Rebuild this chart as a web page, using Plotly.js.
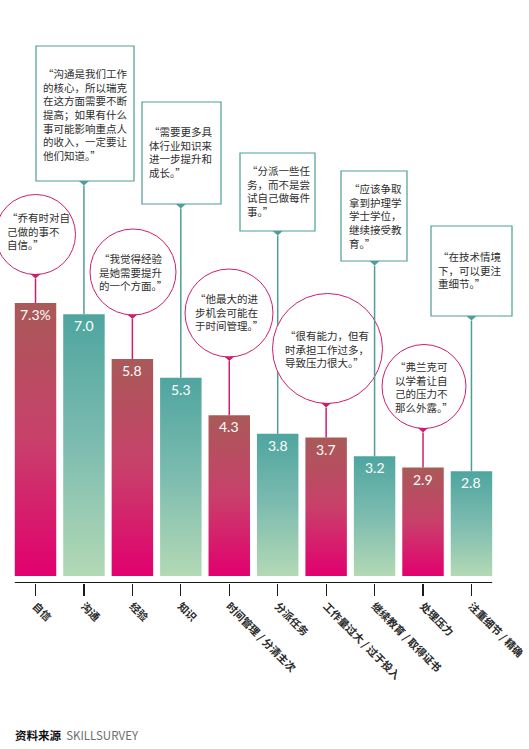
<!DOCTYPE html>
<html>
<head>
<meta charset="utf-8">
<script src="https://cdn.plot.ly/plotly-3.0.1.min.js"></script>
<style>
html,body{margin:0;padding:0;background:#fff;}
#chart{width:529px;height:749px;}
</style>
</head>
<body>
<div id="chart"></div>
<script>
// ---------- DATA ----------
const categories = ['自信', '沟通', '经验', '知识', '时间管理 / 分清主次', '分派任务',
  '工作量过大 / 过于投入', '继续教育 / 取得证书', '处理压力', '注重细节 / 精确'];
const values = [7.3, 7.0, 5.8, 5.3, 4.3, 3.8, 3.7, 3.2, 2.9, 2.8];
const valueLabels = ['7.3%', '7.0', '5.8', '5.3', '4.3', '3.8', '3.7', '3.2', '2.9', '2.8'];
const quotes = [
  '“乔有时对自<br>己做的事不<br>自信。”',
  '“沟通是我们工作<br>的核心，所以瑞克<br>在这方面需要不断<br>提高；如果有什么<br>事可能影响重点人<br>的收入，一定要让<br>他们知道。”',
  '“我觉得经验<br>是她需要提升<br>的一个方面。”',
  '“需要更多具<br>体行业知识来<br>进一步提升和<br>成长。”',
  '“他最大的进<br>步机会可能在<br>于时间管理。”',
  '“分派一些任<br>务，而不是尝<br>试自己做每件<br>事。”',
  '“很有能力，但有<br>时承担工作过多，<br>导致压力很大。”',
  '“应该争取<br>拿到护理学<br>学士学位，<br>继续接受教<br>育。”',
  '“弗兰克可<br>以学着让自<br>己的压力不<br>那么外露。”',
  '“在技术情境<br>下，可以更注<br>重细节。”'
];
const sourceLabel = '资料来源';
const sourceName = 'SKILLSURVEY';

// ---------- LAYOUT / STYLE ----------
const W = 529, PLOT_H = 583;
const xRange = [-0.733, 10.188];
const yRange = [-0.187, 15.40];
const px2x = p => xRange[0] + p / W * (xRange[1] - xRange[0]);
const py2y = p => yRange[1] - p / PLOT_H * (yRange[1] - yRange[0]);
const halfW = 0.428;

const PINK = {top: '#a95a58', mid: '#c8406a', bottom: '#e2006f', stroke: '#cc1e6e'};
const TEAL = {top: '#4ea59f', mid: '#7dbcb0', bottom: '#b3d9b5', stroke: '#4f9d97'};

// callout geometry in pixels (circle: cx, cy, r ; rect: x0,x1,y0,y1) and text centre
const callouts = [
  {kind: 'circle', cx: 35.5, cy: 234.5, r: 40, tx: 38, ty: 231},
  {kind: 'rect', x0: 36, x1: 134, y0: 46, y1: 181, tx: 85, ty: 114},
  {kind: 'circle', cx: 133, cy: 272, r: 43, tx: 133, ty: 272},
  {kind: 'rect', x0: 142, x1: 221, y0: 102, y1: 204, tx: 181, ty: 152},
  {kind: 'circle', cx: 229, cy: 313, r: 44, tx: 229, ty: 312},
  {kind: 'rect', x0: 240, x1: 315, y0: 153, y1: 231, tx: 279, ty: 191},
  {kind: 'circle', cx: 327.5, cy: 348.5, r: 55, tx: 327, ty: 349},
  {kind: 'rect', x0: 341, x1: 407, y0: 171, y1: 261, tx: 375, ty: 215.5},
  {kind: 'circle', cx: 424, cy: 386.5, r: 42, tx: 424, ty: 386.5},
  {kind: 'rect', x0: 431, x1: 512, y0: 226, y1: 316, tx: 470, ty: 270}
];

// ---------- TRACES (bars as gradient-filled areas) ----------
const traces = values.map((v, i) => {
  const c = i % 2 === 0 ? PINK : TEAL;
  return {
    type: 'scatter',
    mode: 'lines',
    x: [i - halfW, i + halfW, i + halfW, i - halfW, i - halfW],
    y: [0, 0, v, v, 0],
    fill: 'toself',
    fillcolor: c.mid,
    fillgradient: {
      type: 'vertical',
      start: 0,
      stop: v,
      colorscale: [[0, c.bottom], [0.5, c.mid], [1, c.top]]
    },
    line: {width: 0, color: 'rgba(0,0,0,0)'},
    hoverinfo: 'skip',
    showlegend: false
  };
});

// ---------- SHAPES & ANNOTATIONS ----------
const shapes = [];
const annotations = [];

values.forEach((v, i) => {
  const co = callouts[i];
  const isCircle = co.kind === 'circle';
  const col = isCircle ? PINK.stroke : TEAL.stroke;
  let bottomPix;
  if (isCircle) {
    shapes.push({
      type: 'circle', xref: 'x', yref: 'y',
      x0: px2x(co.cx - co.r), x1: px2x(co.cx + co.r),
      y0: py2y(co.cy + co.r), y1: py2y(co.cy - co.r),
      line: {color: col, width: 1}, fillcolor: '#ffffff', layer: 'above'
    });
    bottomPix = co.cy + co.r - 0.5;
  } else {
    shapes.push({
      type: 'rect', xref: 'x', yref: 'y',
      x0: px2x(co.x0), x1: px2x(co.x1),
      y0: py2y(co.y1), y1: py2y(co.y0),
      line: {color: col, width: 1.2}, fillcolor: '#ffffff', layer: 'above'
    });
    bottomPix = co.y1;
  }
  const px = i;
  const tipPix = bottomPix + 4.5;
  const dx = px2x(5) - px2x(0);
  shapes.push({
    type: 'path', xref: 'x', yref: 'y',
    path: `M ${px - dx} ${py2y(bottomPix)} L ${px + dx} ${py2y(bottomPix)} L ${px} ${py2y(tipPix)} Z`,
    fillcolor: col, line: {width: 0}, layer: 'above'
  });
  shapes.push({
    type: 'line', xref: 'x', yref: 'y',
    x0: px, x1: px, y0: v, y1: py2y(tipPix),
    line: {color: col, width: 1.5}, layer: 'above'
  });
  annotations.push({
    xref: 'x', yref: 'y', x: px2x(co.tx), y: py2y(co.ty),
    xanchor: 'center', yanchor: 'middle', align: 'left',
    text: quotes[i], showarrow: false,
    font: {family: '"Noto Sans CJK SC", "Noto Sans", sans-serif', size: 10.5, color: '#2e2e2e'}
  });
  annotations.push({
    xref: 'x', yref: 'y', x: i, y: v, yanchor: 'top', xanchor: 'center', yshift: -1,
    text: valueLabels[i], showarrow: false,
    font: {family: 'Lato, "Open Sans", sans-serif', size: 14, color: '#ffffff'}
  });
});

// axis base line
shapes.push({
  type: 'line', xref: 'x', yref: 'y',
  x0: -halfW, x1: values.length - 1 + halfW, y0: py2y(582.6), y1: py2y(582.6),
  line: {color: '#1a1a1a', width: 1.4}, layer: 'above'
});

// source
annotations.push({
  xref: 'paper', yref: 'paper', x: 13 / W, y: (PLOT_H - 735) / PLOT_H,
  xanchor: 'left', yanchor: 'middle', align: 'left', showarrow: false,
  text: '<b>' + sourceLabel + '</b>  <span style="color:#6d6d6d">' + sourceName + '</span>',
  font: {family: '"Noto Sans CJK SC", "Liberation Sans", sans-serif', size: 11.5, color: '#111111'}
});

const layout = {
  width: 529, height: 749,
  margin: {l: 0, r: 0, t: 0, b: 749 - PLOT_H, pad: 0},
  paper_bgcolor: '#ffffff', plot_bgcolor: '#ffffff',
  showlegend: false, hovermode: false,
  xaxis: {
    range: xRange, fixedrange: true, showgrid: false, zeroline: false, showline: false,
    tickmode: 'array', tickvals: categories.map((_, i) => i), ticktext: categories,
    ticks: 'outside', ticklen: 12, tickwidth: 1.2, tickcolor: '#1a1a1a',
    tickangle: 45, ticklabeloverflow: 'allow',
    tickfont: {family: '"Noto Sans CJK SC", sans-serif', size: 10.5, color: '#2a2a2a', weight: 'bold'}
  },
  yaxis: {
    range: yRange, fixedrange: true, visible: false, showgrid: false, zeroline: false
  },
  shapes: shapes,
  annotations: annotations
};

Plotly.newPlot('chart', traces, layout, {displayModeBar: false, staticPlot: true});
</script>
</body>
</html>
